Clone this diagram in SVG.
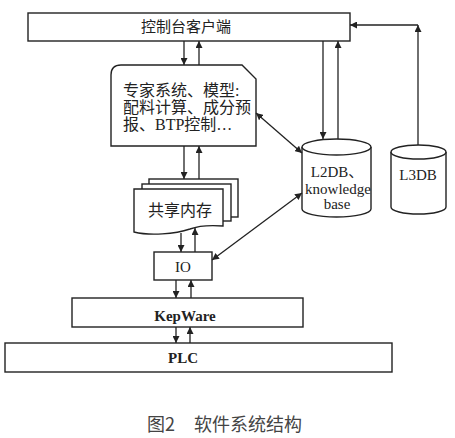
<svg xmlns="http://www.w3.org/2000/svg" width="455" height="438" viewBox="0 0 455 438">
<style>
.box{fill:#fff;stroke:#222;stroke-width:1.4}
.ln{fill:none;stroke:#222;stroke-width:1.3}
.t{font-family:"Liberation Serif","Noto Sans CJK SC",serif;fill:#222;text-anchor:middle}
.ts{font-family:"Liberation Serif","Noto Sans CJK SC",serif;fill:#222;text-anchor:start;font-size:16px}
.cap{font-family:"Noto Sans CJK SC","Noto Sans",sans-serif;fill:#444;font-size:18px;text-anchor:start}
</style>
<defs>
<marker id="ah" viewBox="0 0 10 10" refX="10" refY="5" markerWidth="7" markerHeight="7" markerUnits="userSpaceOnUse" orient="auto-start-reverse">
<path d="M0,0 L10,5 L0,10 z" fill="#222"/>
</marker>
</defs>
<rect width="455" height="438" fill="#fff"/>
<g id="console">
<rect class="box" x="28" y="13" width="322" height="28"/>
<text class="t" x="186" y="32" font-size="15">控制台客户端</text>
</g>
<g id="expert">
<path class="box" d="M121,65 L242,65 L256,79 L256,146 L111,146 L111,75 Q111,65 121,65 Z"/>
<text class="ts" x="123" y="96">专家系统、模型:</text>
<text class="ts" x="123" y="113">配料计算、成分预</text>
<text class="ts" x="123" y="130">报、BTP控制…</text>
</g>
<g id="shm">
<rect class="box" x="149" y="179" width="89" height="38"/>
<rect class="box" x="142" y="184" width="89" height="37"/>
<path class="box" d="M134,189 L223,189 L223,226 C210,225 198,226 190,229 C175,234 150,236 134,232 Z"/>
<text class="t" x="180" y="216" font-size="16">共享内存</text>
</g>
<g id="io">
<rect class="box" x="154" y="252" width="58" height="28"/>
<text class="t" x="183" y="272" font-size="15">IO</text>
</g>
<g id="kepware">
<rect class="box" x="72" y="298" width="231" height="29"/>
<text class="t" x="185" y="321" font-size="15" font-weight="bold">KepWare</text>
</g>
<g id="plc">
<rect class="box" x="5" y="343" width="387" height="29"/>
<text class="t" x="183" y="363" font-size="15" font-weight="bold">PLC</text>
</g>
<g id="l2db">
<path class="box" d="M302,147 L302,209 A34.5,8 0 0 0 371,209 L371,147"/>
<ellipse class="box" cx="336.5" cy="147" rx="34.5" ry="8"/>
<text class="t" x="337" y="177" font-size="15">L2DB、</text>
<text class="t" x="338" y="194" font-size="15">knowledge</text>
<text class="t" x="337" y="209" font-size="15">base</text>
</g>
<g id="l3db">
<path class="box" d="M391,152 L391,207 A27.5,7 0 0 0 446,207 L446,152"/>
<ellipse class="box" cx="418.5" cy="152" rx="27.5" ry="7"/>
<text class="t" x="418" y="180" font-size="15">L3DB</text>
</g>
<g id="connectors">
<line class="ln" x1="184" y1="41" x2="184" y2="65" marker-end="url(#ah)"/>
<line class="ln" x1="199" y1="65" x2="199" y2="41" marker-end="url(#ah)"/>
<line class="ln" x1="184" y1="146" x2="184" y2="179" marker-end="url(#ah)"/>
<line class="ln" x1="199" y1="179" x2="199" y2="146" marker-end="url(#ah)"/>
<line class="ln" x1="181" y1="233" x2="181" y2="252" marker-end="url(#ah)"/>
<line class="ln" x1="195" y1="252" x2="195" y2="228" marker-end="url(#ah)"/>
<line class="ln" x1="176" y1="280" x2="176" y2="298" marker-end="url(#ah)"/>
<line class="ln" x1="191" y1="298" x2="191" y2="280" marker-end="url(#ah)"/>
<line class="ln" x1="176" y1="327" x2="176" y2="343" marker-end="url(#ah)"/>
<line class="ln" x1="190" y1="343" x2="190" y2="327" marker-end="url(#ah)"/>
<line class="ln" x1="323" y1="41" x2="323" y2="139" marker-end="url(#ah)"/>
<line class="ln" x1="338" y1="139" x2="338" y2="41" marker-end="url(#ah)"/>
<line class="ln" x1="418" y1="145" x2="418" y2="25" marker-end="url(#ah)"/>
<line class="ln" x1="418" y1="25" x2="350" y2="25" marker-end="url(#ah)"/>
<line class="ln" x1="256" y1="113" x2="302" y2="153" marker-start="url(#ah)" marker-end="url(#ah)"/>
<line class="ln" x1="212" y1="260" x2="302" y2="193" marker-start="url(#ah)" marker-end="url(#ah)"/>
</g>
<g id="caption">
<text class="cap" x="147" y="431">图2</text>
<text class="cap" x="194" y="431">软件系统结构</text>
</g>
</svg>
